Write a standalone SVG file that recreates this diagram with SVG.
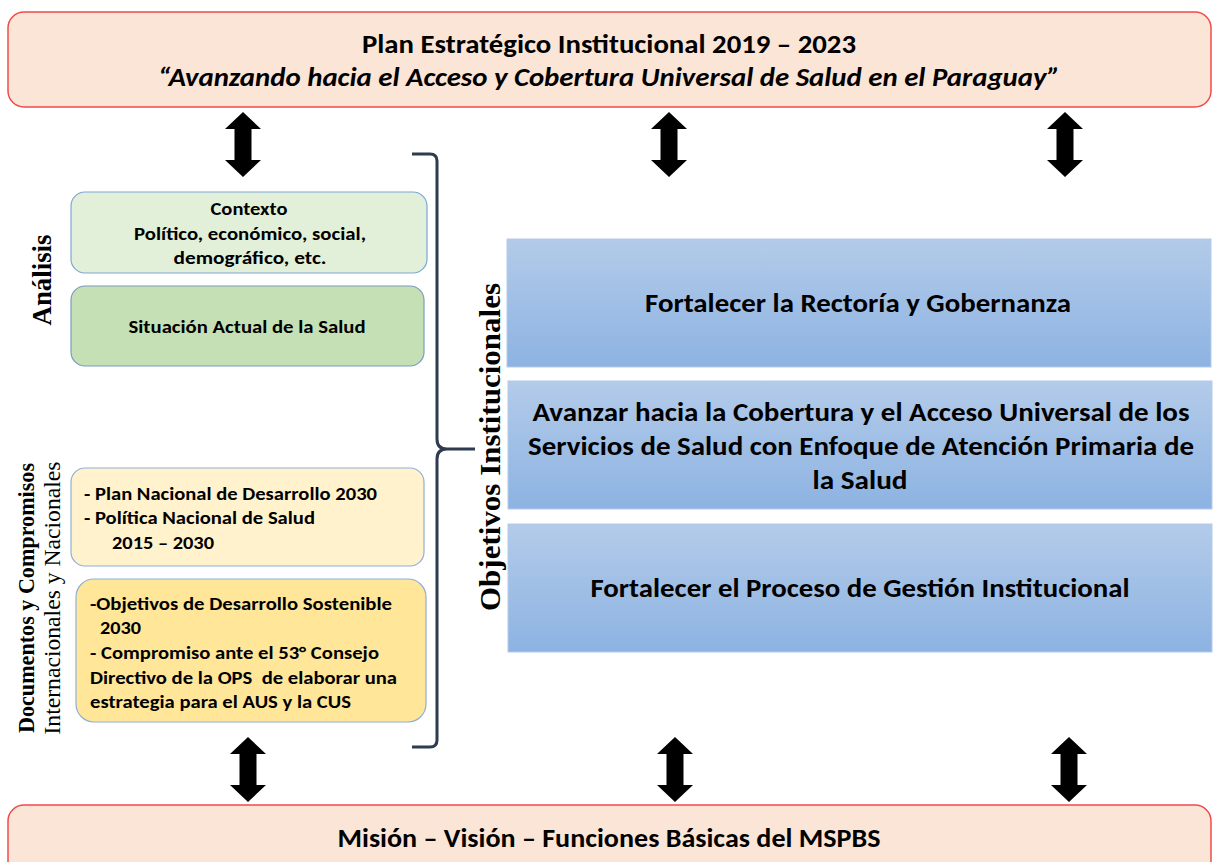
<svg xmlns="http://www.w3.org/2000/svg" width="1217" height="862" viewBox="0 0 1217 862">
  <defs>
    <style>
      .t { font-family: Carlito, Lato, "Open Sans", sans-serif; font-weight: bold; fill: #000; }
      .c { text-anchor: middle; }
      .s { font-family: "Liberation Serif", "Times New Roman", serif; fill: #000; text-anchor: middle; }
      .banner { fill: #FBE5D6; stroke: #F24A4A; stroke-width: 1.5; }
      .blue { fill: url(#gBlue); stroke: #B4CBEA; stroke-width: 1; }
      .arrow { fill: #000; }
    </style>
    <linearGradient id="gBlue" x1="0" y1="0" x2="0" y2="1">
      <stop offset="0" stop-color="#B3CBE9"/>
      <stop offset="1" stop-color="#8DB3E2"/>
    </linearGradient>
    <path id="dbl" d="M0,0 L18,17 L8.5,17 L8.5,48 L18,48 L0,65 L-18,48 L-8.5,48 L-8.5,17 L-18,17 Z"/>
  </defs>

  <rect width="1217" height="862" fill="#fff"/>

  <g id="top-banner">
    <rect class="banner" x="8" y="12" width="1203" height="95" rx="16"/>
    <text class="t c" x="609" y="53" font-size="26" textLength="494" lengthAdjust="spacingAndGlyphs">Plan Estratégico Institucional 2019 – 2023</text>
    <text class="t c" x="609" y="86" font-size="26" font-style="italic" textLength="902" lengthAdjust="spacingAndGlyphs">“Avanzando hacia el Acceso y Cobertura Universal de Salud en el Paraguay”</text>
  </g>

  <g id="bottom-banner">
    <rect class="banner" x="8" y="805" width="1203" height="80" rx="16"/>
    <text class="t c" x="609" y="847" font-size="26" textLength="543" lengthAdjust="spacingAndGlyphs">Misión – Visión – Funciones Básicas del MSPBS</text>
  </g>

  <g id="connectors">
    <use href="#dbl" class="arrow" transform="translate(243,112)"/>
    <use href="#dbl" class="arrow" transform="translate(669,112)"/>
    <use href="#dbl" class="arrow" transform="translate(1065,112)"/>
    <use href="#dbl" class="arrow" transform="translate(248,737)"/>
    <use href="#dbl" class="arrow" transform="translate(675,737)"/>
    <use href="#dbl" class="arrow" transform="translate(1069,737)"/>
  </g>

  <g id="label-analisis">
    <text class="s" font-weight="bold" font-size="28" transform="translate(51,280) rotate(-90)" textLength="91" lengthAdjust="spacingAndGlyphs">Análisis</text>
  </g>

  <g id="label-documentos">
    <text class="s" font-weight="bold" font-size="23" transform="translate(34,598) rotate(-90)" textLength="270" lengthAdjust="spacingAndGlyphs">Documentos y Compromisos</text>
    <text class="s" font-size="24" transform="translate(60,598) rotate(-90)" textLength="273" lengthAdjust="spacingAndGlyphs">Internacionales y Nacionales</text>
  </g>

  <g id="node-contexto">
    <rect x="71" y="192" width="356" height="81" rx="14" fill="#E2F0D9" stroke="#7EA6D6" stroke-width="1.2"/>
    <text class="t c" x="249" y="215" font-size="19" textLength="77" lengthAdjust="spacingAndGlyphs">Contexto</text>
    <text class="t c" x="250" y="240" font-size="19" textLength="232" lengthAdjust="spacingAndGlyphs">Político, económico, social,</text>
    <text class="t c" x="250" y="264" font-size="19" textLength="153" lengthAdjust="spacingAndGlyphs">demográfico, etc.</text>
  </g>

  <g id="node-situacion">
    <rect x="71" y="286" width="353" height="80" rx="14" fill="#C5E0B4" stroke="#7A9CC0" stroke-width="1.2"/>
    <text class="t c" x="247" y="333" font-size="19" textLength="237" lengthAdjust="spacingAndGlyphs">Situación Actual de la Salud</text>
  </g>

  <g id="node-plan-nacional">
    <rect x="71" y="468" width="353" height="98" rx="14" fill="#FFF2CC" stroke="#8FB0D8" stroke-width="1.2"/>
    <text class="t" x="84" y="500" font-size="19" textLength="293" lengthAdjust="spacingAndGlyphs">- Plan Nacional de Desarrollo 2030</text>
    <text class="t" x="84" y="524" font-size="19" textLength="231" lengthAdjust="spacingAndGlyphs">- Política Nacional de Salud</text>
    <text class="t" x="112" y="549" font-size="19" textLength="102" lengthAdjust="spacingAndGlyphs">2015 – 2030</text>
  </g>

  <g id="node-ods">
    <rect x="76" y="579" width="350" height="143" rx="18" fill="#FFE699" stroke="#8FB0D8" stroke-width="1.2"/>
    <text class="t" x="90" y="610" font-size="19" textLength="302" lengthAdjust="spacingAndGlyphs">-Objetivos de Desarrollo Sostenible</text>
    <text class="t" x="100" y="634" font-size="19" textLength="41" lengthAdjust="spacingAndGlyphs">2030</text>
    <text class="t" x="90" y="659" font-size="19" textLength="289" lengthAdjust="spacingAndGlyphs">- Compromiso ante el 53° Consejo</text>
    <text class="t" x="90" y="684" font-size="19" textLength="307" lengthAdjust="spacingAndGlyphs" xml:space="preserve">Directivo de la OPS  de elaborar una</text>
    <text class="t" x="90" y="708" font-size="19" textLength="261" lengthAdjust="spacingAndGlyphs">estrategia para el AUS y la CUS</text>
  </g>

  <g id="bracket">
    <path d="M412,154 L430,154 Q437,154 437,161 L437,439 Q437,449 447,449 L475,449 M447,449 Q437,449 437,459 L437,740 Q437,747 430,747 L412,747" fill="none" stroke="#2F3B4F" stroke-width="3" stroke-linejoin="round"/>
  </g>

  <g id="label-objetivos">
    <text class="s" font-weight="bold" font-size="30" transform="translate(500,447) rotate(-90)" textLength="328" lengthAdjust="spacingAndGlyphs">Objetivos Institucionales</text>
  </g>

  <g id="node-rectoria">
    <rect class="blue" x="507" y="239" width="704" height="128"/>
    <text class="t c" x="858" y="312" font-size="27" textLength="426" lengthAdjust="spacingAndGlyphs">Fortalecer la Rectoría y Gobernanza</text>
  </g>

  <g id="node-cobertura">
    <rect class="blue" x="508" y="381" width="704" height="128"/>
    <text class="t c" x="861" y="421" font-size="27" textLength="657" lengthAdjust="spacingAndGlyphs">Avanzar hacia la Cobertura y el Acceso Universal de los</text>
    <text class="t c" x="861" y="455" font-size="27" textLength="666" lengthAdjust="spacingAndGlyphs">Servicios de Salud con Enfoque de Atención Primaria de</text>
    <text class="t c" x="860" y="489" font-size="27" textLength="95" lengthAdjust="spacingAndGlyphs">la Salud</text>
  </g>

  <g id="node-gestion">
    <rect class="blue" x="508" y="524" width="704" height="128"/>
    <text class="t c" x="860" y="597" font-size="27" textLength="539" lengthAdjust="spacingAndGlyphs">Fortalecer el Proceso de Gestión Institucional</text>
  </g>
</svg>
